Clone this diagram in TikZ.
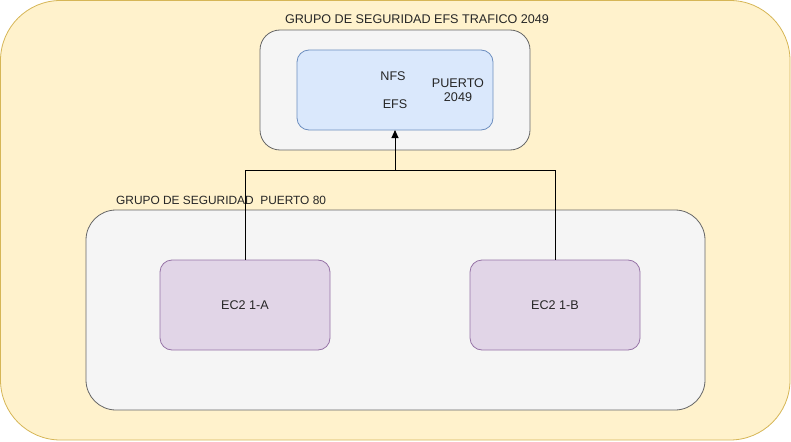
\documentclass[tikz,border=0pt]{standalone}
\usepackage{fontspec}
\setmainfont{Liberation Sans}
\usetikzlibrary{arrows.meta}
\definecolor{outerfill}{HTML}{FFF2CC}
\definecolor{outerline}{HTML}{D6B656}
\definecolor{grayfill}{HTML}{F5F5F5}
\definecolor{grayline}{HTML}{666666}
\definecolor{bluefill}{HTML}{DAE8FC}
\definecolor{blueline}{HTML}{6C8EBF}
\definecolor{ecfill}{HTML}{E1D5E7}
\definecolor{ecline}{HTML}{9673A6}
\tikzset{
  sgbox/.style={draw=grayline,fill=grayfill,rounded corners=20pt,line width=0.8pt},
  efsbox/.style={draw=blueline,fill=bluefill,rounded corners=12pt,line width=0.8pt},
  ecbox/.style={draw=ecline,fill=ecfill,rounded corners=12pt,line width=0.8pt,
    minimum width=170pt,minimum height=90pt,inner sep=0pt},
  lbl/.style={font=\fontsize{12.6}{14.5}\selectfont,text=black!85,inner sep=0pt}
}
\begin{document}
\begin{tikzpicture}[x=1pt,y=-1pt]
  \useasboundingbox (0,0) rectangle (791,441);
  \draw[draw=outerline,fill=outerfill,rounded corners=60pt,line width=0.8pt] (0.5,0.5) rectangle (790,440);
  % security group EFS
  \draw[sgbox] (260,30) rectangle (530,150);
  \node[lbl] (sgefs) at (417,19) {GRUPO DE SEGURIDAD EFS TRAFICO 2049};
  \draw[efsbox] (297,50) rectangle (493,130);
  \coordinate (efs) at (395,130);
  \node[lbl] (nfs) at (393,76) {NFS};
  \node[lbl] (efsname) at (395,104) {EFS};
  \node[lbl,align=center] (puerto) at (458,90) {PUERTO\\2049};
  % security group port 80
  \draw[sgbox,rounded corners=30pt] (86,210) rectangle (705,410);
  \node[lbl,anchor=west,font=\fontsize{11.9}{14}\selectfont] (sg80) at (116,200) {GRUPO DE SEGURIDAD\ \ PUERTO 80};
  \node[ecbox,lbl] (eca) at (245,305) {EC2 1-A};
  \node[ecbox,lbl] (ecb) at (555,305) {EC2 1-B};
  \draw[line width=0.9pt] (eca.north) |- (555,170) -- (ecb.north);
  \draw[line width=0.9pt,-{Triangle[length=8pt,width=7pt]}] (395,170) -- (efs);
\end{tikzpicture}
\end{document}
